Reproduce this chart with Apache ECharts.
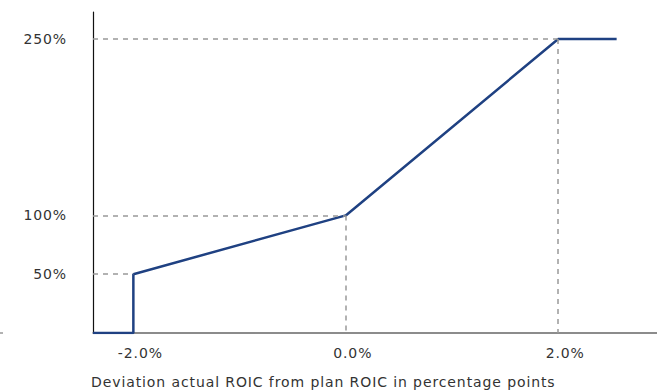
<!DOCTYPE html>
<html>
<head>
<meta charset="utf-8">
<script src="https://cdn.jsdelivr.net/npm/echarts@6/dist/echarts.min.js"></script>
<style>
  html, body { margin: 0; padding: 0; background: #fff; }
  #chart { width: 657px; height: 390px; }
  /* the original typeface runs a bit wider than DejaVu */
  #chart text { letter-spacing: 0.9px; }
</style>
</head>
<body>
<div id="chart"></div>
<script>
// payout curve: deviation (pp) -> payout (%)
var curveX = [-2.38, -2.0, -2.0, 0.0, 2.0, 2.55];
var curveY = [0, 0, 50, 100, 250, 250];
var xTicks = [-2.0, 0.0, 2.0];
var yTicks = [50, 100, 250];
// guide points that get dashed lines to the axes
var guideX = [-2.0, 0.0, 2.0];
var guideY = [50, 100, 250];
var xTitle = 'Deviation actual ROIC from plan ROIC in percentage points';

var chart = echarts.init(document.getElementById('chart'), null, { renderer: 'svg' });

var xMin = -2.38, xMax = 2.93, yMin = 0, yMax = 273;
var font = 'DejaVu Sans';

var guides = [];
for (var i = 0; i < guideX.length; i++) {
    // horizontal to y axis
    guides.push([{ coord: [xMin, guideY[i]] }, { coord: [guideX[i], guideY[i]] }]);
    // vertical to x axis (not for the step)
    if (guideX[i] !== -2.0) {
        guides.push([{ coord: [guideX[i], guideY[i]] }, { coord: [guideX[i], 0] }]);
    }
}

var lineData = curveX.map(function (x, i) { return [x, curveY[i]]; });

chart.setOption({
    animation: false,
    grid: { left: 93, right: 0, top: 12, bottom: 57, containLabel: false },
    xAxis: {
        type: 'value',
        min: xMin,
        max: xMax,
        splitLine: { show: false },
        axisTick: { show: false },
        axisLine: { show: true, lineStyle: { color: '#666', width: 1.5 } },
        axisLabel: {
            customValues: xTicks,
            margin: 13,
            padding: [0, 0, 0, 14],
            color: '#333',
            fontSize: 14,
            fontFamily: font,
            formatter: function (v) { return v.toFixed(1) + '%'; }
        }
    },
    yAxis: {
        type: 'value',
        min: yMin,
        max: yMax,
        splitLine: { show: false },
        axisTick: { show: false },
        axisLine: { show: true, onZero: false, lineStyle: { color: '#111', width: 1.2 } },
        axisLabel: {
            customValues: yTicks,
            margin: 26,
            color: '#333',
            fontSize: 14,
            fontFamily: font,
            formatter: '{value}%'
        }
    },
    graphic: [
        {
            type: 'text',
            left: 91,
            top: 375,
            style: { text: xTitle, fill: '#333', font: '14px "DejaVu Sans"' }
        },
        {
            type: 'line',
            shape: { x1: 0, y1: 333, x2: 3, y2: 333 },
            style: { stroke: '#666', lineWidth: 1 }
        }
    ],
    series: [{
        type: 'line',
        data: lineData,
        symbol: 'none',
        lineStyle: { color: '#1f4182', width: 2.5 },
        z: 3,
        markLine: {
            silent: true,
            symbol: 'none',
            label: { show: false },
            lineStyle: { color: '#999', type: [5, 5], width: 1.5 },
            data: guides
        }
    }]
});
</script>
</body>
</html>
